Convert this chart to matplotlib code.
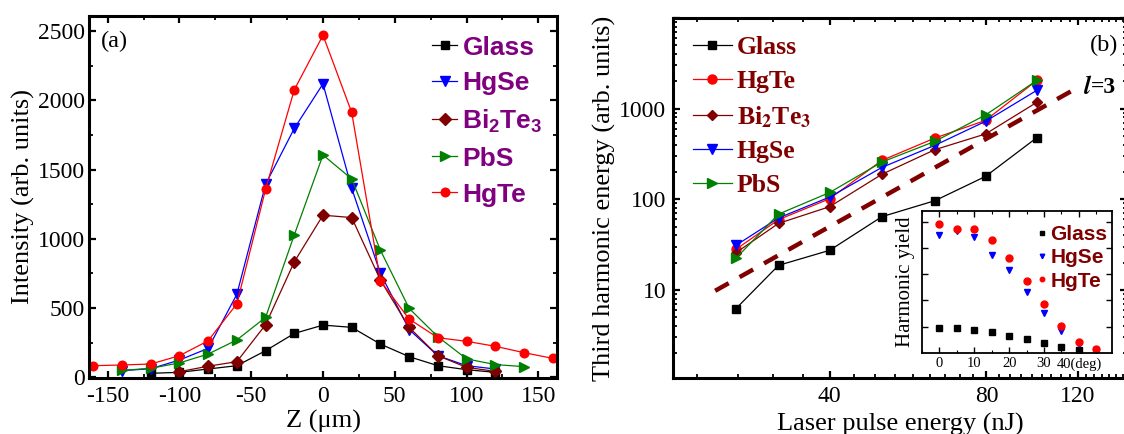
import matplotlib
matplotlib.use('Agg')
import matplotlib.pyplot as plt
from matplotlib.ticker import FixedLocator, NullFormatter, MultipleLocator, FixedFormatter

plt.rcParams['font.family'] = ['Liberation Serif', 'DejaVu Serif']
plt.rcParams['mathtext.fontset'] = 'custom'
plt.rcParams['mathtext.bf'] = 'Liberation Sans:bold'
plt.rcParams['mathtext.rm'] = 'Liberation Sans'
plt.rcParams['axes.unicode_minus'] = False

# ---------------- Panel (a) data ----------------
z_hgte = [-160, -140, -120, -100, -80, -60, -40, -20, 0, 20, 40, 60, 80, 100, 120, 140, 160]
i_hgte = [84, 89, 96, 156, 264, 531, 1358, 2077, 2471, 1913, 697, 421, 286, 260, 224, 178, 137]
z_hgse = [-140, -120, -100, -80, -60, -40, -20, 0, 20, 40, 60, 80, 100, 120]
i_hgse = [48, 62, 125, 209, 600, 1394, 1798, 2120, 1365, 750, 345, 156, 84, 60]
z_bi = [-100, -80, -60, -40, -20, 0, 20, 40, 60, 80, 100, 120]
i_bi = [41, 80, 113, 380, 834, 1171, 1154, 702, 361, 156, 72, 43]
z_pbs = [-140, -120, -100, -80, -60, -40, -20, 0, 20, 40, 60, 80, 100, 120, 140]
i_pbs = [50, 65, 104, 168, 270, 433, 1029, 1606, 1433, 918, 498, 293, 133, 92, 77]
z_glass = [-120, -100, -80, -60, -40, -20, 0, 20, 40, 60, 80, 100, 120]
i_glass = [29, 36, 60, 84, 192, 317, 377, 361, 240, 149, 84, 55, 36]

# ---------------- Panel (b) data ----------------
energy = [26.4, 31.9, 40, 50.4, 63.7, 79.7, 100]
th_glass = [6.2, 18.7, 27.4, 64.4, 96.6, 179, 479]
th_hgte = [28, 59.7, 101.6, 269, 474, 743, 2050]
th_bi = [25.7, 54.3, 83, 189, 353, 526, 1175]
th_hgse = [31.0, 62.3, 106, 225, 394, 725, 1593]
th_pbs = [22.3, 68.7, 119, 258, 436, 852, 2050]
guide_x = [24.1, 116.3]
guide_y = [9.8, 1553]

# ---------------- Inset data ----------------
angle = [0, 5, 10, 15, 20, 25, 30, 35, 40, 45]
y_hgte = [4.9, 4.72, 4.72, 4.28, 3.61, 2.75, 1.87, 1.02, 0.40, 0.15]
y_hgse = [4.49, 4.64, 4.40, 3.74, 3.17, 2.33, 1.53, 0.84, 0.34, 0.11]
angle_glass = [0, 5, 10, 15, 20, 25, 30, 35, 40]
y_glass = [0.96, 0.96, 0.87, 0.81, 0.63, 0.53, 0.38, 0.21, 0.11]

W, H = 1124, 434
fig = plt.figure(figsize=(W / 100, H / 100), dpi=100)

def frac(l, t, r, b):
    return [l / W, 1 - b / H, (r - l) / W, (b - t) / H]

# ================= Panel (a) =================
ax = fig.add_axes(frac(89, 16, 557, 378))
lw = 0.9
ax.plot(z_glass, i_glass, '-s', color='black', lw=lw, ms=5.4, label='Glass')
ax.plot(z_hgse, i_hgse, '-v', color='#0000ff', lw=lw, ms=6.8, label='HgSe')
ax.plot(z_bi, i_bi, '-D', color='#800000', lw=lw, ms=5.7, label=r'Bi$_\mathbf{2}$Te$_\mathbf{3}$')
ax.plot(z_pbs, i_pbs, '->', color='#008000', lw=lw, ms=6.8, label='PbS')
ax.plot(z_hgte, i_hgte, '-o', color='#ff0000', lw=lw, ms=6.2, label='HgTe')
ax.set_xlim(-163, 163)
ax.set_ylim(-5, 2610)
ax.xaxis.set_major_locator(MultipleLocator(50))
ax.xaxis.set_minor_locator(MultipleLocator(25))
ax.yaxis.set_major_locator(MultipleLocator(500))
ax.yaxis.set_minor_locator(MultipleLocator(250))
for s in ax.spines.values():
    s.set_linewidth(2.2)
ax.tick_params(which='both', direction='in', top=True, right=True, labelsize=17)
ax.tick_params(which='major', length=5, width=1.6)
ax.tick_params(which='minor', length=3, width=1.3)
ax.tick_params(axis='x', pad=6)
ax.tick_params(axis='y', pad=3)
ax.set_xlabel('Z (μm)', fontsize=19, labelpad=2)
ax.set_ylabel('Intensity (arb. units)', fontsize=19, labelpad=2)
ax.text(0.025, 0.93, '(a)', transform=ax.transAxes, fontsize=17.5, va='center', ha='left')
leg = ax.legend(loc='upper left', bbox_to_anchor=(0.733, 0.946), frameon=False,
                prop={'family': 'Liberation Sans', 'weight': 'bold', 'size': 19},
                labelcolor='#800080', handlelength=0.95, handletextpad=0.2,
                labelspacing=0.45, borderpad=0, borderaxespad=0)
for t in leg.get_texts():
    t.set_math_fontfamily('custom')

# ================= Panel (b) =================
bx = fig.add_axes(frac(673, 18, 1127, 378))
lw = 0.9
bx.plot(energy, th_glass, '-s', color='black', lw=lw, ms=6, label='Glass')
bx.plot(energy, th_hgte, '-o', color='#ff0000', lw=lw, ms=6.5, label='HgTe')
bx.plot(energy, th_bi, '-D', color='#800000', lw=lw, ms=5.5, label=r'Bi$_\mathbf{2}$Te$_\mathbf{3}$')
bx.plot(energy, th_hgse, '-v', color='#0000ff', lw=lw, ms=7, label='HgSe')
bx.plot(energy, th_pbs, '->', color='#008000', lw=lw, ms=7, label='PbS')
bx.plot(guide_x, guide_y, color='#800000', lw=3.2, ls=(0, (3.5, 2.8)))
bx.set_xscale('log')
bx.set_yscale('log')
bx.set_xlim(20, 149)
bx.set_ylim(1.07, 10000)
bx.xaxis.set_major_locator(FixedLocator([40, 80, 120]))
bx.xaxis.set_major_formatter(FixedFormatter(['40', '80', '120']))
minor_x = [k * 40 / 9 for k in range(4, 36) if k % 9 != 0]
bx.xaxis.set_minor_locator(FixedLocator(minor_x))
bx.xaxis.set_minor_formatter(NullFormatter())
bx.yaxis.set_major_locator(FixedLocator([1, 10, 100, 1000, 10000]))
bx.yaxis.set_major_formatter(FixedFormatter(['', '10', '100', '1000', '']))
minor_y = [m * 10 ** d for d in range(0, 4) for m in range(2, 10)]
bx.yaxis.set_minor_locator(FixedLocator(minor_y))
bx.yaxis.set_minor_formatter(NullFormatter())
for s in bx.spines.values():
    s.set_linewidth(2.2)
bx.tick_params(which='both', direction='in', top=True, right=True, labelsize=17)
bx.tick_params(which='major', length=5, width=1.6)
bx.tick_params(which='minor', length=3, width=1.3)
bx.tick_params(axis='x', pad=6)
bx.tick_params(axis='y', pad=5)
bx.set_xlabel('Laser pulse energy (nJ)', fontsize=19, labelpad=4)
bx.set_ylabel('Third harmonic energy (arb. units)', fontsize=19, labelpad=2)
bx.text(0.918, 0.925, '(b)', transform=bx.transAxes, fontsize=17.5, va='center', ha='left')
bx.text(0.902, 0.807, r'$\mathbfit{l}$', transform=bx.transAxes, fontsize=18,
        math_fontfamily='stix', va='center', ha='left')
bx.text(0.921, 0.807, '=3', transform=bx.transAxes, fontsize=17, fontweight='bold',
        va='center', ha='left')
leg2 = bx.legend(loc='upper left', bbox_to_anchor=(0.044, 0.949), frameon=False,
                 prop={'family': 'Liberation Serif', 'weight': 'bold', 'size': 18.5},
                 labelcolor='#800000', handlelength=1.5, handletextpad=0.2,
                 labelspacing=0.42, borderpad=0, borderaxespad=0)
for t in leg2.get_texts():
    t.set_math_fontfamily('stix')

# ================= Inset =================
ix = fig.add_axes(frac(922, 211, 1112, 353))
ix.plot(angle_glass, y_glass, 's', color='black', ms=4.5, ls='none', label='Glass')
ix.plot(angle, y_hgse, 'v', color='#0000ff', ms=5, ls='none', label='HgSe')
ix.plot(angle, y_hgte, 'o', color='#ff0000', ms=5, ls='none', label='HgTe')
ix.set_xlim(-5, 49.5)
ix.set_ylim(0, 5.4)
ix.xaxis.set_major_locator(FixedLocator([0, 10, 20, 30, 40]))
ix.xaxis.set_major_formatter(FixedFormatter(['0', '10', '20', '30', '40(deg)']))
ix.xaxis.set_minor_locator(MultipleLocator(5))
ix.yaxis.set_major_locator(FixedLocator([1, 2, 3, 4, 5]))
ix.yaxis.set_major_formatter(NullFormatter())
for s in ix.spines.values():
    s.set_linewidth(1.3)
ix.tick_params(which='both', direction='in', top=True, right=True, labelsize=10.5, pad=3)
ix.tick_params(which='major', length=4, width=1)
ix.tick_params(which='minor', length=2, width=0.8)
ix.set_ylabel('Harmonic yield', fontsize=15, labelpad=2)
leg3 = ix.legend(loc='upper left', bbox_to_anchor=(0.6, 0.9), frameon=False,
                 prop={'family': 'Liberation Sans', 'weight': 'bold', 'size': 15},
                 labelcolor='#800000', handlelength=0.6, handletextpad=0.1,
                 labelspacing=0.2, borderpad=0, borderaxespad=0, markerscale=0.65)

fig.savefig('out.png', dpi=100)
